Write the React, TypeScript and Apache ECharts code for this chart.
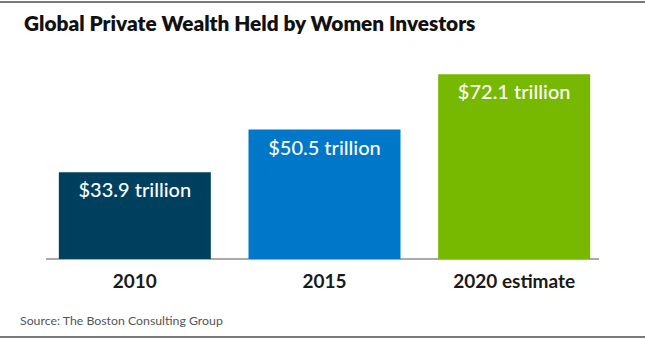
import React, { useEffect, useRef } from "react";
import * as echarts from "echarts";

const categories = ["2010", "2015", "2020 estimate"];
const values = [33.9, 50.5, 72.1];
const barColors = ["#00405f", "#0077c8", "#77b800"];
const labelTexts = ["$33.9 trillion", "$50.5 trillion", "$72.1 trillion"];

const FONT = "Lato, 'Noto Sans', sans-serif";

export default function App() {
  const ref = useRef<HTMLDivElement>(null);
  useEffect(() => {
    if (!ref.current) return;
    const chart = echarts.init(ref.current, null, { renderer: "svg" });
    chart.setOption({
      animation: false,
      backgroundColor: "#ffffff",
      textStyle: { fontFamily: FONT },
      title: {
        text: "Global Private Wealth Held by Women Investors",
        left: 19,
        top: 7,
        textStyle: { fontFamily: FONT, fontSize: 20.8, fontWeight: 800, color: "#111111" },
      },
      grid: { left: 40, right: 36, top: 54, bottom: 81 },
      xAxis: {
        type: "category",
        data: categories,
        axisLine: { show: false },
        axisTick: { show: false },
        axisLabel: { fontFamily: FONT, fontSize: 19, fontWeight: "bold", color: "#1a1a1a", margin: 12 },
      },
      yAxis: {
        type: "value",
        min: 0,
        max: 80,
        show: false,
        splitLine: { show: false },
      },
      series: [
        {
          type: "bar",
          barWidth: 152,
          data: values.map((v, i) => ({ value: v, itemStyle: { color: barColors[i] } })),
          label: {
            show: true,
            position: "insideTop",
            distance: 7,
            formatter: (p: any) => labelTexts[p.dataIndex],
            fontFamily: FONT,
            fontSize: 20,
            fontWeight: 500,
            color: "#ffffff",
          },
        },
      ],
      graphic: [
        { type: "line", shape: { x1: 0, y1: 2, x2: 645, y2: 2 }, style: { stroke: "#7a7a7a", lineWidth: 2 } },
        { type: "line", shape: { x1: 0, y1: 337, x2: 645, y2: 337 }, style: { stroke: "#7a7a7a", lineWidth: 2 } },
        { type: "line", shape: { x1: 46, y1: 259, x2: 599, y2: 259 }, style: { stroke: "#aaaaaa", lineWidth: 2 } },
        {
          type: "text",
          left: 20,
          top: 314,
          style: { text: "Source: The Boston Consulting Group", fontFamily: FONT, fontSize: 12.3, fill: "#555555" },
        },
      ],
    });
    return () => chart.dispose();
  }, []);
  return <div ref={ref} style={{ position: "fixed", left: 0, top: 0, width: 645, height: 340 }} />;
}
